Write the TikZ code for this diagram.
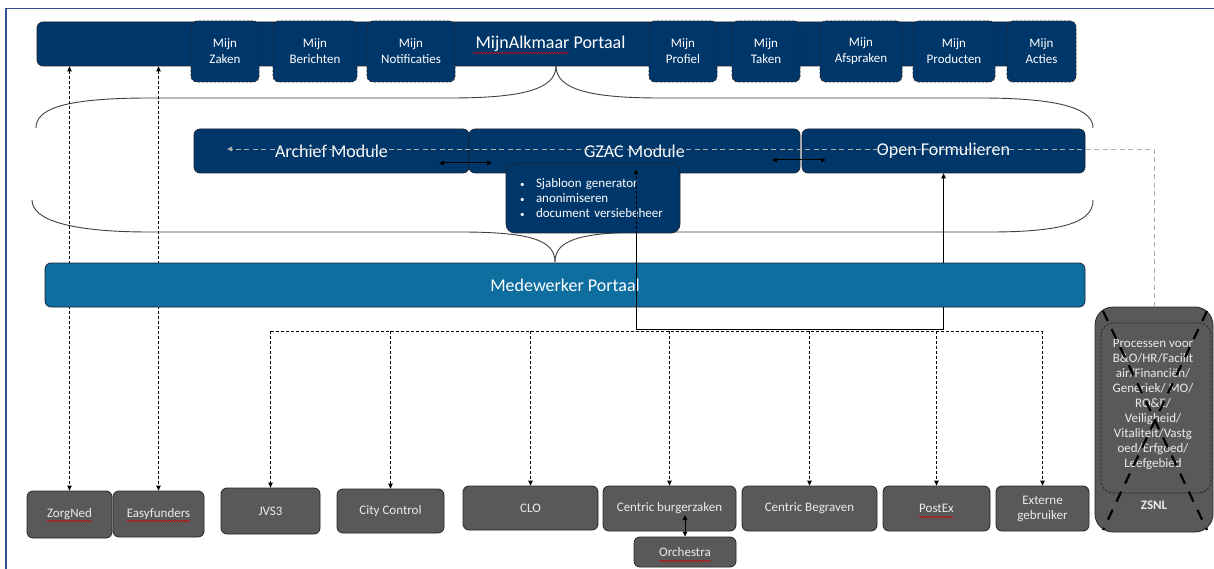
\documentclass[tikz,border=0pt]{standalone}
\usepackage{fontspec}
\setmainfont{Carlito}
\usetikzlibrary{arrows.meta,decorations.pathmorphing}
\pgfdeclarelayer{back}
\pgfdeclarelayer{bg}
\pgfsetlayers{back,bg,main}
\definecolor{navy}{RGB}{0,55,107}
\definecolor{mwblue}{RGB}{14,110,160}
\definecolor{boxgray}{RGB}{89,89,89}
\definecolor{framec}{RGB}{50,80,140}
\definecolor{lgray}{RGB}{175,175,175}
\definecolor{bordc}{RGB}{25,35,50}
\tikzset{
  tri/.tip={Triangle[length=5pt,width=4.5pt]},
  fbig/.style={font=\fontsize{18}{21}\selectfont},
  fsmall/.style={font=\fontsize{13}{15}\selectfont},
  navybox/.style={draw=bordc, fill=navy, rounded corners=6pt, text=white, line width=0.7pt, inner sep=0pt},
  mijnbox/.style={navybox, font=\fontsize{13}{16}\selectfont, dash pattern=on 2.5pt off 1.5pt, draw=black!85, align=center, minimum height=61pt, line width=0.8pt},
  modbox/.style={navybox, fbig, minimum height=44pt},
  graybox/.style={draw=black!85, fill=boxgray, rounded corners=6pt, text=white!92!black, fsmall, inner sep=0pt, align=center, line width=0.8pt},
  dline/.style={draw=black, line width=0.8pt, dash pattern=on 3pt off 2pt},
  graydash/.style={draw=lgray, line width=0.8pt, dash pattern=on 5pt off 3.5pt},
  solidconn/.style={draw=black, line width=1pt},
  bracel/.style={draw=black!75, line width=0.9pt},
  xdash/.style={draw=black, line width=2.2pt, dash pattern=on 11pt off 9pt},
  spell/.style={draw=red!85!black, line width=0.5pt, decorate, decoration={snake, amplitude=0.7pt, segment length=2.6pt}},
}
\begin{document}
\begin{tikzpicture}[x=1pt,y=-1pt]
\useasboundingbox (0,0) rectangle (1214,569);
\begin{pgfonlayer}{back}
\fill[white] (0,0) rectangle (1214,569);
\end{pgfonlayer}
% frame
\draw[framec, line width=1.5pt] (6,569) -- (6,8.5) -- (1214,8.5);

% top portal
\node[navybox, fbig, minimum width=1027pt, minimum height=44pt] (top) at (550.5,44) {MijnAlkmaar Portaal};
\node[mijnbox, minimum width=68pt] (mz) at (225,51.5) {Mijn\\Zaken};
\node[mijnbox, minimum width=84pt] (mb) at (315,51.5) {Mijn\\Berichten};
\node[mijnbox, minimum width=88pt] (mn) at (411,51.5) {Mijn\\Notificaties};
\node[mijnbox, minimum width=68pt] (mp) at (683,51.5) {Mijn\\Profiel};
\node[mijnbox, minimum width=68pt] (mt) at (766,51.5) {Mijn\\Taken};
\node[mijnbox, minimum width=82pt] (ma) at (861,51.5) {Mijn\\Afspraken};
\node[mijnbox, minimum width=82pt] (mpr) at (954,51.5) {Mijn\\Producten};
\node[mijnbox, minimum width=69pt] (mac) at (1041.5,51.5) {Mijn\\Acties};

% modules
\node[modbox, minimum width=275pt] (arch) at (331.5,151) {Archief Module};
\node[modbox, minimum width=331pt] (gzac) at (634.5,151) {GZAC Module};
\node[modbox, minimum width=283pt] (of) at (943.5,151) {Open Formulieren};
\node[navybox, fsmall, minimum width=174pt, minimum height=70pt, rounded corners=9pt, text width=150pt, align=left] (bul) at (593,198)
  {\hspace*{2pt}\makebox[16pt][l]{\fontsize{9}{15}\selectfont\textbullet}Sjabloon generator\\
   \hspace*{2pt}\makebox[16pt][l]{\fontsize{9}{15}\selectfont\textbullet}anonimiseren\\
   \hspace*{2pt}\makebox[16pt][l]{\fontsize{9}{15}\selectfont\textbullet}document versiebeheer};

% medewerker
\node[navybox, fill=mwblue, fbig, minimum width=1040pt, minimum height=44pt] (mw) at (565,285) {Medewerker Portaal};

% bottom systems
\node[graybox, minimum width=85pt, minimum height=47pt] (zorg) at (69.5,514.5) {ZorgNed};
\node[graybox, minimum width=91pt, minimum height=46pt] (easy) at (158.5,514) {Easyfunders};
\node[graybox, minimum width=99pt, minimum height=46pt] (jvs) at (270.5,511) {JVS3};
\node[graybox, minimum width=107pt, minimum height=44pt] (city) at (390.5,511) {City Control};
\node[graybox, minimum width=135pt, minimum height=44pt] (clo) at (530.5,508) {CLO};
\node[graybox, minimum width=133pt, minimum height=45pt] (cbz) at (669.5,508.5) {Centric burgerzaken};
\node[graybox, minimum width=135pt, minimum height=45pt] (cbg) at (809.5,508.5) {Centric Begraven};
\node[graybox, minimum width=107pt, minimum height=45pt] (pex) at (936.5,508.5) {PostEx};
\node[graybox, minimum width=93pt, minimum height=45pt] (ext) at (1042.5,508.5) {Externe\\gebruiker};
\node[graybox, minimum width=102pt, minimum height=30pt] (orch) at (685,552) {Orchestra};

% ZSNL
\node[graybox, minimum width=118pt, minimum height=225pt, rounded corners=18pt] (zsnl) at (1154,419.5) {};
\draw[draw=black!85, line width=0.8pt, dash pattern=on 2.5pt off 1.5pt, rounded corners=12pt] (1101,323) rectangle (1211,493);
\node[fsmall, text=white!92!black, align=center, inner sep=0pt] (zproc) at (1153,404)
  {Processen voor\\B\&O/HR/Facilit\\air/Financiën/\\Generiek/ MO/\\RO\&E/\\Veiligheid/\\Vitaliteit/Vastg\\oed/Erfgoed/\\Leefgebied};
\node[fsmall, text=white!92!black, inner sep=0pt, font=\fontsize{13}{15}\selectfont\bfseries] (ztitle) at (1154,505) {ZSNL};
\draw[xdash] (1103,311) -- (1207,530);
\draw[xdash] (1207,311) -- (1103,530);

% coordinates
\coordinate (c636b) at (636,329);
\coordinate (gztip) at (636,169);
\coordinate (busL) at (270.5,331);
\coordinate (busR) at (1042.5,331);
\coordinate (ga) at (227,149);
\coordinate (d1a) at (439,163);
\coordinate (d1b) at (492,163);
\coordinate (d2a) at (772,160);
\coordinate (d2b) at (826,160);
\coordinate (cbzin) at (685,515);

% background connectors
\begin{pgfonlayer}{bg}
\draw[bracel] (556,66) .. controls (556,90) and (520,98) .. (450,98) -- (150,98) .. controls (60,98) and (36,110) .. (36,128);
\draw[bracel] (556,66) .. controls (556,90) and (592,98) .. (660,98) -- (980,98) .. controls (1065,98) and (1093,110) .. (1093,128);
\draw[bracel] (32,200) .. controls (32,220) and (70,232) .. (150,232) -- (460,232) .. controls (530,232) and (555,240) .. (555,262);
\draw[bracel] (555,262) .. controls (555,240) and (580,232) .. (650,232) -- (990,232) .. controls (1070,232) and (1093,220) .. (1093,200);
\draw[dline, tri-tri] (zorg.north |- top.south) -- (zorg.north);
\draw[dline, tri-tri] (easy.north |- top.south) -- (easy.north);
\draw[solidconn, -tri] (c636b) -| (of.south);
\end{pgfonlayer}

% foreground connectors
\draw[solidconn] (bul.south -| c636b) -- (c636b);
\draw[dline, -tri] (c636b) -- (gztip);
\draw[dline, line width=1pt] (busL) -- (busR);
\foreach \n in {jvs,city,clo,cbz,cbg,pex,ext} {
  \draw[dline, -tri] (busL -| \n.north) -- (\n.north);
}
\draw[graydash, -tri] (zsnl.north) |- (ga);
\draw[solidconn, tri-tri] (d1a) -- (d1b);
\draw[solidconn, tri-tri] (d2a) -- (d2b);
\draw[solidconn, tri-tri] (orch.north) -- (cbzin);

% spell-check underlines
\draw[spell] (473,53) -- (569,53);
\draw[spell] (47,521) -- (92,521);
\draw[spell] (127,521) -- (190,521);
\draw[spell] (919,517) -- (954,517);
\draw[spell] (659,561) -- (711,561);
\end{tikzpicture}
\end{document}
